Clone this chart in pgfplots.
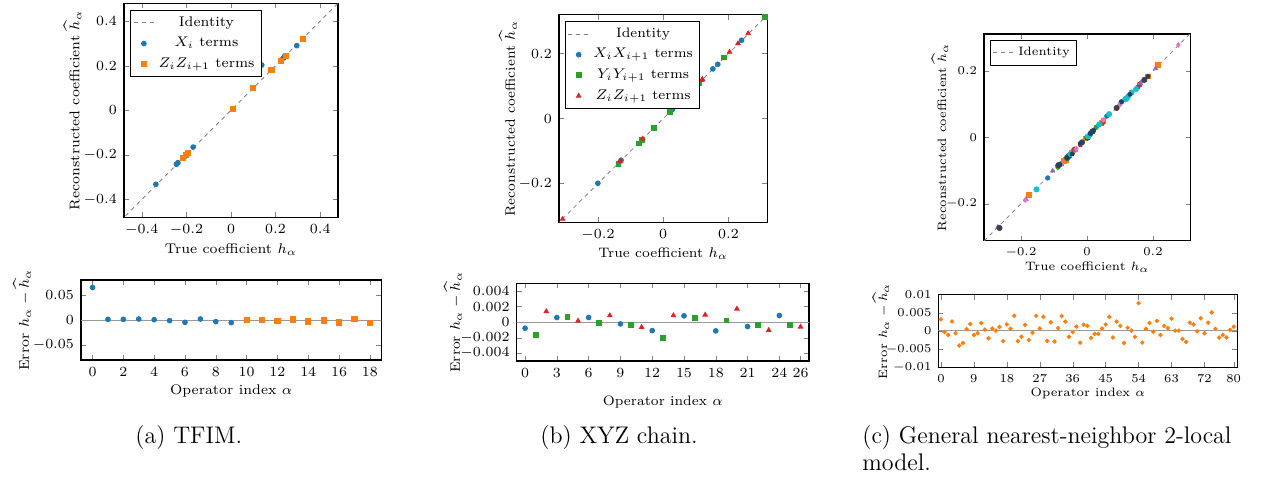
\documentclass[border=0pt]{standalone}
\usepackage{fontspec}
\usepackage{pgfplots}
\pgfplotsset{compat=1.18}
\definecolor{tblue}{RGB}{31,119,180}
\definecolor{torange}{RGB}{255,127,14}
\definecolor{tgreen}{RGB}{44,160,44}
\definecolor{tred}{RGB}{214,39,40}
\definecolor{tpurple}{RGB}{148,103,189}
\definecolor{tpink}{RGB}{227,119,194}
\definecolor{tdark}{RGB}{64,64,64}
\definecolor{tcyan}{RGB}{23,190,207}
\definecolor{tnavy}{RGB}{20,70,110}
\newcommand\fa{\fontsize{7}{8.2}\selectfont}
\newcommand\fb{\fontsize{6.85}{8}\selectfont}
\newcommand\fc{\fontsize{6.1}{7.2}\selectfont}
\pgfplotsset{
  every axis/.append style={
    font=\fa,
    scale only axis, anchor=south west,
    major tick length=2.5pt,
    axis line style={line width=0.6pt},
    legend cell align=center,
    legend image code/.code={\draw[mark repeat=2,mark phase=2,##1] plot coordinates {(0cm,0cm) (0.18cm,0cm) (0.36cm,0cm)};},
    legend style={at={(0.03,0.97)}, anchor=north west, draw=black, fill=white,
      font=\fa, inner sep=1.2pt},
  },
  idline/.style={gray, line width=0.4pt, dash pattern=on 2pt off 2pt},
  zeroline/.style={gray!80, line width=0.5pt, forget plot},
  mb/.style={only marks, mark=*, mark size=1.2pt, color=tblue},
  mo/.style={only marks, mark=square*, mark size=1.3pt, color=torange},
  mg/.style={only marks, mark=square*, mark size=1.2pt, color=tgreen},
  mr/.style={only marks, mark=triangle*, mark size=1.3pt, color=tred},
}
\begin{document}
\begin{tikzpicture}[x=1pt,y=1pt]
\useasboundingbox (0,0) rectangle (632.5,241.5);
% ---------- (a) top
\begin{axis}[at={(62pt,132.85pt)}, width=107pt, height=107pt,
  xmin=-0.48, xmax=0.48, ymin=-0.48, ymax=0.48,
  xtick={-0.4,-0.2,0,0.2,0.4}, ytick={-0.4,-0.2,0,0.2,0.4}]
\addplot[idline] coordinates {(-0.6,-0.6) (0.6,0.6)};
\addlegendentry{Identity}
\addplot[mb] coordinates {(-0.337,-0.332) (-0.245,-0.242) (-0.238,-0.235) (-0.205,-0.206) (-0.170,-0.165) (0.138,0.203) (0.226,0.226) (0.235,0.234) (0.240,0.242) (0.295,0.290)};
\addlegendentry{$X_i$ terms}
\addplot[mo] coordinates {(-0.215,-0.212) (-0.204,-0.200) (-0.194,-0.192) (0.008,0.008) (0.097,0.099) (0.181,0.180) (0.225,0.220) (0.246,0.245) (0.322,0.320)};
\addlegendentry{$Z_iZ_{i+1}$ terms}
\end{axis}
\node[font=\fa] at (115.5,116.5) {True coefficient $h_\alpha$};
\node[font=\fa, rotate=90] at (36.25,186.35) {Reconstructed coefficient $\widehat{h}_\alpha$};
% ---------- (a) bottom
\begin{axis}[at={(40.5pt,61.5pt)}, width=150.2pt, height=40pt,
  xmin=-0.75, xmax=18.75, ymin=-0.08, ymax=0.08,
  xtick={0,2,...,18}, ytick={-0.05,0,0.05},
  scaled y ticks=false,
  yticklabel style={/pgf/number format/fixed, /pgf/number format/precision=3}]
\addplot[zeroline] coordinates {(-1,0) (20,0)};
\addplot[mb] coordinates {(0,0.065) (1,0.0013) (2,0.0013) (3,0.002) (4,0.0007) (5,-0.0013) (6,-0.0047) (7,0.002) (8,-0.0033) (9,-0.0053)};
\addplot[mo] coordinates {(10,0.0007) (11,0) (12,-0.002) (13,0.0013) (14,-0.0027) (15,-0.0007) (16,-0.0047) (17,0.002) (18,-0.006)};
\end{axis}
\node[font=\fa] at (115.6,46.15) {Operator index $\alpha$};
\node[font=\fa, rotate=90] at (11,81.5) {Error $h_\alpha-\widehat{h}_\alpha$};
% ---------- (b) top
\begin{axis}[font=\fb, legend style={font=\fb}, at={(279.5pt,130.35pt)}, width=104.2pt, height=103.7pt,
  xmin=-0.319, xmax=0.319, ymin=-0.319, ymax=0.319,
  xtick={-0.2,0,0.2}, ytick={-0.2,0,0.2}]
\addplot[idline] coordinates {(-0.5,-0.5) (0.5,0.5)};
\addlegendentry{Identity}
\addplot[mb] coordinates {(-0.200,-0.199) (-0.136,-0.137) (-0.129,-0.128) (-0.063,-0.064) (0.028,0.028) (0.040,0.040) (0.152,0.153) (0.167,0.167) (0.240,0.241)};
\addlegendentry{$X_iX_{i+1}$ terms}
\addplot[mg] coordinates {(-0.137,-0.139) (-0.074,-0.076) (-0.065,-0.066) (-0.029,-0.029) (0.020,0.020) (0.068,0.068) (0.109,0.110) (0.187,0.188) (0.312,0.313)};
\addlegendentry{$Y_iY_{i+1}$ terms}
\addplot[mr] coordinates {(-0.308,-0.309) (-0.133,-0.132) (-0.131,-0.130) (-0.063,-0.062) (0.118,0.118) (0.120,0.121) (0.203,0.205) (0.229,0.231) (0.260,0.262)};
\addlegendentry{$Z_iZ_{i+1}$ terms}
\end{axis}
\node[font=\fb] at (331.6,114.85) {True coefficient $h_\alpha$};
\node[font=\fb, rotate=90] at (254,182.2) {Reconstructed coefficient $\widehat{h}_\alpha$};
% ---------- (b) bottom
\begin{axis}[font=\fb, at={(258.3pt,61pt)}, width=146.2pt, height=38.8pt,
  xmin=-0.8, xmax=26.8, ymin=-0.005, ymax=0.005,
  xtick={0,3,6,9,12,15,18,21,24,26}, ytick={-0.004,-0.002,0,0.002,0.004},
  scaled y ticks=false,
  yticklabel style={/pgf/number format/fixed, /pgf/number format/precision=3}]
\addplot[zeroline] coordinates {(-1,0) (28,0)};
\addplot[mb] coordinates {(0,-0.00077) (3,0.0006) (6,0.0006) (9,-0.00022) (12,-0.00108) (15,0.00082) (18,-0.00112) (21,-0.00056) (24,0.00086)};
\addplot[mg] coordinates {(1,-0.00163) (4,0.00073) (7,-0.00004) (10,-0.00034) (13,-0.00198) (16,0.00056) (19,0.00022) (22,-0.00034) (25,-0.00034)};
\addplot[mr] coordinates {(2,0.00138) (5,0.00017) (8,0.00086) (11,-0.00065) (14,0.00086) (17,0.00095) (20,0.00172) (23,-0.00103) (26,-0.0006)};
\end{axis}
\node[font=\fb] at (331.4,40.5) {Operator index $\alpha$};
\node[font=\fb, rotate=90] at (226.5,80.4) {Error $h_\alpha-\widehat{h}_\alpha$};
% ---------- (c) top
\begin{axis}[font=\fc, legend style={font=\fc}, at={(492pt,121.15pt)}, width=103.3pt, height=103.3pt,
  xmin=-0.312, xmax=0.314, ymin=-0.311, ymax=0.311,
  xtick={-0.2,0,0.2}, ytick={-0.2,0,0.2}]
\addplot[idline] coordinates {(-0.5,-0.5) (0.5,0.5)};
\addlegendentry{Identity}
\addplot[forget plot, only marks, mark=*, mark size=1.1pt, color=tblue] coordinates {(-0.119,-0.1222) (-0.082,-0.0817) (-0.056,-0.0549) (-0.035,-0.0376) (0.003,0.0036) (0.060,0.0640) (0.104,0.1073) (0.134,0.1335) (0.160,0.1581)};
\addplot[forget plot, only marks, mark=square*, mark size=1.2pt, color=torange] coordinates {(-0.175,-0.1739) (-0.071,-0.0704) (-0.065,-0.0672) (-0.045,-0.0454) (-0.005,-0.0030) (0.044,0.0433) (0.050,0.0499) (0.185,0.1839) (0.215,0.2178)};
\addplot[forget plot, only marks, mark=*, mark size=1.1pt, color=tgreen] coordinates {(-0.088,-0.0898) (-0.082,-0.0826) (-0.060,-0.0642) (-0.040,-0.0372) (0.000,0.0016) (0.010,0.0083) (0.028,0.0305) (0.116,0.1165) (0.120,0.1158)};
\addplot[forget plot, only marks, mark=pentagon*, mark size=1.1pt, color=tred] coordinates {(-0.078,-0.0787) (-0.076,-0.0799) (-0.038,-0.0353) (-0.020,-0.0224) (0.012,0.0149) (0.018,0.0172) (0.047,0.0429) (0.155,0.1524) (0.160,0.1616)};
\addplot[forget plot, only marks, mark=triangle*, mark size=1.2pt, color=tpurple] coordinates {(-0.270,-0.2697) (-0.185,-0.1862) (-0.104,-0.1008) (-0.036,-0.0377) (0.000,-0.0014) (0.098,0.0999) (0.162,0.1628) (0.168,0.1688) (0.208,0.2073)};
\addplot[forget plot, only marks, mark=diamond*, mark size=1.2pt, color=tpink] coordinates {(-0.187,-0.1888) (-0.075,-0.0789) (-0.050,-0.0482) (-0.032,-0.0346) (0.040,0.0386) (0.049,0.0523) (0.100,0.0991) (0.130,0.1299) (0.277,0.2786)};
\addplot[forget plot, only marks, mark=*, mark size=1.3pt, color=tdark] coordinates {(-0.265,-0.2727) (-0.087,-0.0838) (-0.060,-0.0606) (-0.054,-0.0562) (-0.015,-0.0148) (0.002,-0.0008) (0.017,0.0181) (0.090,0.0886) (0.174,0.1732)};
\addplot[forget plot, only marks, mark=*, mark size=1.3pt, color=tcyan] coordinates {(-0.153,-0.1564) (-0.050,-0.0501) (0.003,0.0029) (0.037,0.0392) (0.067,0.0700) (0.117,0.1147) (0.124,0.1222) (0.135,0.1351) (0.149,0.1455)};
\addplot[forget plot, only marks, mark=pentagon*, mark size=1.1pt, color=tnavy] coordinates {(-0.082,-0.0814) (-0.060,-0.0623) (-0.045,-0.0501) (-0.020,-0.0182) (0.010,0.0118) (0.020,0.0211) (0.105,0.1068) (0.130,0.1297) (0.185,0.1838)};
\end{axis}
\node[font=\fc] at (543.65,107.75) {True coefficient $h_\alpha$};
\node[font=\fc, rotate=90] at (470,172.8) {Reconstructed coefficient $\widehat{h}_\alpha$};
% ---------- (c) bottom
\begin{axis}[font=\fc, at={(469.2pt,57.85pt)}, width=149.5pt, height=36.3pt,
  xmin=-0.7, xmax=81, ymin=-0.01, ymax=0.01,
  xtick={0,9,18,27,36,45,54,63,72,80}, ytick={-0.01,-0.005,0,0.005,0.01},
  scaled y ticks=false,
  yticklabel style={/pgf/number format/fixed, /pgf/number format/precision=3}]
\addplot[zeroline] coordinates {(-1,0) (82,0)};
\addplot[only marks, mark=*, mark size=0.9pt, color=torange] coordinates {
(0,0.0032) (1,-0.0003) (2,-0.0011) (3,0.0026) (4,-0.0006) (5,-0.0040) (6,-0.0033) (7,0.0005) (8,0.0019)
(9,-0.0011) (10,-0.0006) (11,0.0022) (12,0.0004) (13,-0.0020) (14,0.0007) (15,0.0001) (16,0.0011) (17,-0.0028)
(18,0.0018) (19,0.0006) (20,0.0042) (21,-0.0028) (22,-0.0016) (23,0.0017) (24,-0.0025) (25,-0.0005) (26,0.0042)
(27,0.0007) (28,0.0039) (29,-0.0027) (30,0.0024) (31,-0.0029) (32,0.0008) (33,0.0041) (34,0.0026) (35,-0.0016)
(36,-0.0003) (37,0.0012) (38,-0.0032) (39,0.0017) (40,0.0014) (41,-0.0019) (42,-0.0008) (43,-0.0008) (44,0.0007)
(45,0.0018) (46,0.0039) (47,-0.0018) (48,0.0026) (49,0.0014) (50,-0.0033) (51,0.0009) (52,0.0001) (53,-0.0016)
(54,0.0077) (55,-0.0032) (56,0.0006) (57,0.0022) (58,-0.0002) (59,0.0028) (60,-0.0011) (61,0.0014) (62,0.0008)
(63,0.0034) (64,0.0001) (65,0.0001) (66,-0.0022) (67,-0.0030) (68,0.0023) (69,0.0018) (70,-0.0001) (71,0.0035)
(72,-0.0006) (73,0.0023) (74,0.0051) (75,0.0006) (76,-0.0018) (77,-0.0011) (78,-0.0018) (79,0.0003) (80,0.0012)};
\end{axis}
\node[font=\fc] at (543.95,44.85) {Operator index $\alpha$};
\node[font=\fc, rotate=90] at (440.5,76) {Error $h_\alpha-\widehat{h}_\alpha$};
% ---------- captions
\node[anchor=base west, inner sep=0pt, font=\fontsize{12}{14}\selectfont] at (67.5,20) {(a) TFIM.};
\node[anchor=base west, inner sep=0pt, font=\fontsize{12}{14}\selectfont] at (270,20) {(b) XYZ chain.};
\node[anchor=base west, inner sep=0pt, font=\fontsize{12}{14}\selectfont] at (431,20) {(c) General nearest-neighbor 2-local};
\node[anchor=base west, inner sep=0pt, font=\fontsize{12}{14}\selectfont] at (431,6.5) {model.};
\end{tikzpicture}
\end{document}
